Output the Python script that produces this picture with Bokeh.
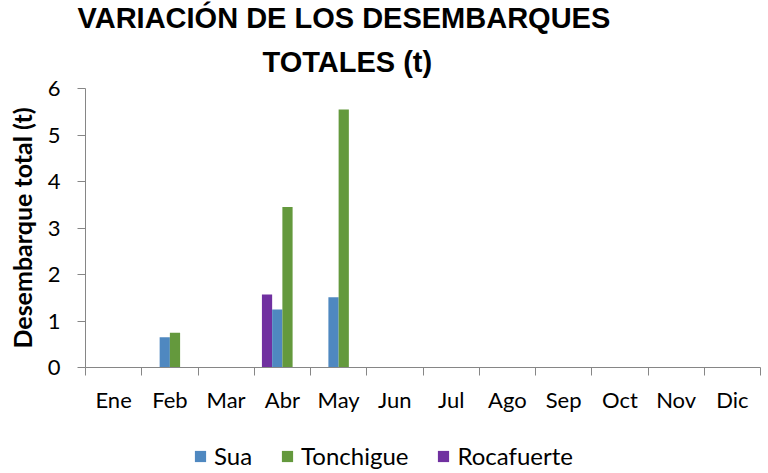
from bokeh.plotting import figure
from bokeh.layouts import column
from bokeh.models import (ColumnDataSource, FixedTicker, Range1d, Title, Legend, LegendItem)
from bokeh.embed import file_html
from bokeh.resources import INLINE

# ---- data ----
months = ["Ene", "Feb", "Mar", "Abr", "May", "Jun", "Jul", "Ago", "Sep", "Oct", "Nov", "Dic"]
sua = [0, 0.65, 0, 1.25, 1.51, 0, 0, 0, 0, 0, 0, 0]
tonchigue = [0, 0.75, 0, 3.45, 5.55, 0, 0, 0, 0, 0, 0, 0]
rocafuerte = [0, 0, 0, 1.57, 0, 0, 0, 0, 0, 0, 0, 0]
y_ticks = [0, 1, 2, 3, 4, 5, 6]

title_line1 = "VARIACIÓN DE LOS DESEMBARQUES"
title_line2 = "TOTALES (t)"
y_label = "Desembarque total (t)"

# ---- styles ----
C_SUA = "#4F88C0"
C_TON = "#64993D"
C_ROC = "#7030A0"
AXIS_GRAY = "#868686"
FONT = "Lato"

centers = [i + 0.5 for i in range(len(months))]
bw = 1 / 5.5  # Excel-like cluster of 4 slots, gap 150%

src = ColumnDataSource(dict(
    xr=[c - 1.5 * bw for c in centers],
    xs=[c - 0.5 * bw for c in centers],
    xt=[c + 0.5 * bw for c in centers],
    sua=sua, tonchigue=tonchigue, rocafuerte=rocafuerte,
))

p = figure(width=768, height=440, output_backend="svg", toolbar_location=None,
           x_range=Range1d(0, len(months)), y_range=Range1d(0, 6),
           min_border_left=85, min_border_right=8, min_border_top=88,
           min_border_bottom=73)

p.grid.visible = False
p.outline_line_color = None
p.background_fill_color = "white"
p.border_fill_color = "white"

bar_specs = [("xr", "rocafuerte", C_ROC), ("xs", "sua", C_SUA), ("xt", "tonchigue", C_TON)]
for xcol, ycol, col in bar_specs:
    p.vbar(x=xcol, top=ycol, width=bw, source=src, fill_color=col, line_color=None)

# x axis: labels at month centres, tick marks at month boundaries
xa = p.xaxis[0]
xa.ticker = FixedTicker(ticks=centers, minor_ticks=list(range(len(months) + 1)))
xa.major_label_overrides = {c: m for c, m in zip(centers, months)}
xa.major_tick_line_color = None
xa.major_tick_out = 8
xa.major_tick_in = 0
xa.minor_tick_out = 8
xa.minor_tick_in = 0
xa.minor_tick_line_color = AXIS_GRAY
xa.axis_line_color = AXIS_GRAY
xa.major_label_standoff = 10
xa.major_label_text_font = FONT
xa.major_label_text_font_size = "22px"
xa.major_label_text_color = "black"

ya = p.yaxis[0]
ya.ticker = FixedTicker(ticks=y_ticks)
ya.minor_tick_line_color = None
ya.major_tick_out = 8
ya.major_tick_in = 0
ya.major_tick_line_color = AXIS_GRAY
ya.axis_line_color = AXIS_GRAY
ya.major_label_standoff = 17
ya.major_label_text_font = FONT
ya.major_label_text_font_size = "22px"
ya.major_label_text_color = "black"
ya.axis_label = y_label
ya.axis_label_text_font = FONT
ya.axis_label_text_font_size = "25px"
ya.axis_label_text_font_style = "bold"
ya.axis_label_text_color = "black"
ya.axis_label_standoff = 8

# titles (second line added first -> closer to the plot)
p.add_layout(Title(text=title_line2, align="left", offset=177, text_font="Liberation Sans",
                   text_font_size="29px", text_font_style="bold", text_color="black",
                   standoff=22), "above")
p.add_layout(Title(text=title_line1, align="left", offset=-8, text_font="Liberation Sans",
                   text_font_size="29px", text_font_style="bold", text_color="black",
                   standoff=-3), "above")

# legend strip below the chart (its bars sit outside the visible y window)
pl = figure(width=768, height=33, output_backend="svg", toolbar_location=None,
            x_range=Range1d(0, len(months)), y_range=Range1d(100, 101),
            x_axis_location=None, y_axis_location=None, min_border=0)
pl.grid.visible = False
pl.outline_line_color = None
rend = {}
for xcol, ycol, col in bar_specs:
    rend[ycol] = pl.vbar(x=xcol, top=ycol, width=bw, source=src, fill_color=col, line_color=None)

legend = Legend(items=[LegendItem(label="Sua", renderers=[rend["sua"]]),
                       LegendItem(label="Tonchigue", renderers=[rend["tonchigue"]]),
                       LegendItem(label="Rocafuerte", renderers=[rend["rocafuerte"]])],
                orientation="horizontal", location=(108, 3),
                padding=0, margin=0, spacing=28, label_standoff=7,
                glyph_width=14, glyph_height=14,
                label_text_font=FONT, label_text_font_size="24px", label_text_color="black",
                border_line_color=None, background_fill_alpha=0)
pl.add_layout(legend, "center")

open("out.html", "w").write(file_html(column(p, pl, spacing=0), INLINE))
